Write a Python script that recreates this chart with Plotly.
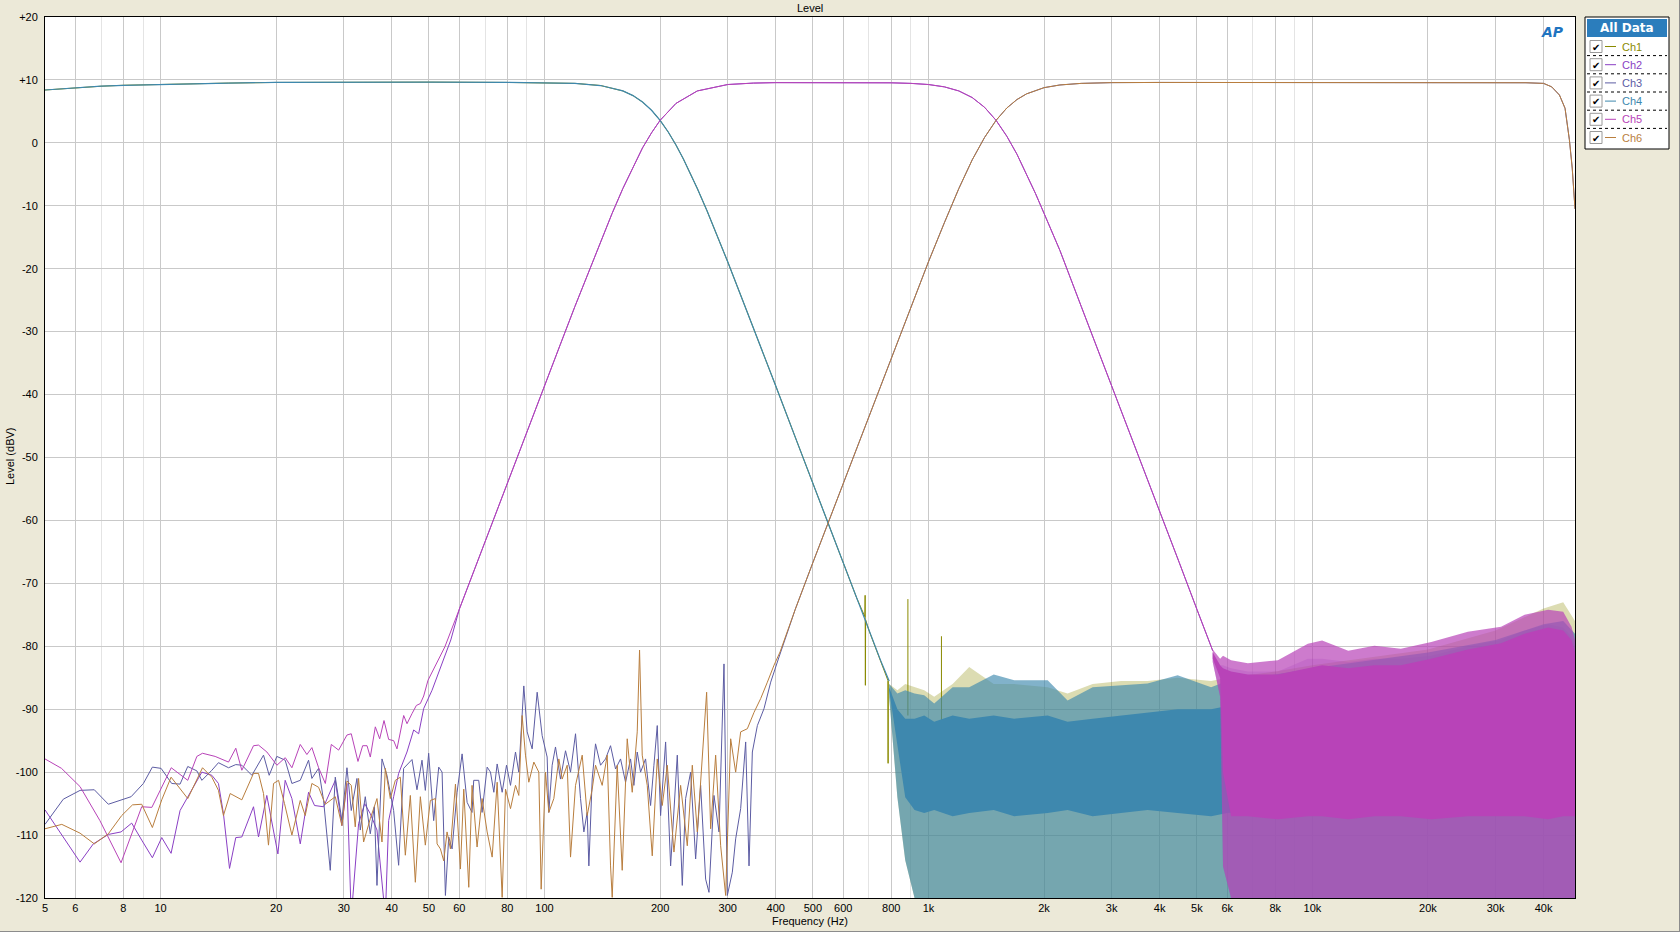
import math
import plotly.graph_objects as go

# ---------------- data ----------------
# Low-pass response (Ch1 / Ch4)
LP_F = [5, 6, 7, 8, 10, 12, 15, 20, 30, 50, 80, 100, 120, 140, 160, 170, 180, 190, 200, 210, 220, 230,
        250, 265, 280, 300, 330, 360, 400, 450, 500, 550, 600, 650, 700, 750, 790]
LP_DB = [8.4, 8.75, 9.0, 9.15, 9.3, 9.4, 9.5, 9.6, 9.65, 9.65, 9.6, 9.57, 9.45, 9.11, 8.25, 7.51, 6.49, 5.18,
         3.58, 1.72, -0.35, -2.57, -7.25, -10.8, -14.35, -18.9, -25.4, -31.3, -38.6, -46.8, -54.1, -60.7,
         -66.7, -72.3, -77.5, -82.2, -85.5]
# Ch1 extra spikes on the slope
CH1_SPK_F = [683, 684, 685, 686, 784, 785, 786]
CH1_SPK_DB = [-75.3, -71.9, -86.2, -75.8, -85.4, -98.6, -85.6]
# Ch1 isolated spikes in the noise floor
CH1_NS_F = [884, 1081]
CH1_NS_TOP = [-72.5, -78.4]
CH1_NS_BASE = [-91.0, -92.0]

# Low-pass noise floor envelopes (Ch1 / Ch4)
LPN_F = [790, 830, 870, 920, 975, 1035, 1156, 1277, 1479, 1673, 2044, 2303, 2677, 3172, 3721, 4457,
         5447, 6000, 8000, 10000, 15000, 20000, 30000, 40000, 45000, 48300]
TEAL_TOP = [-86, -87.5, -87, -87.5, -87.8, -89.1, -86.5, -86.5, -84.5, -85.4, -85.4, -88.6, -86.5,
            -86.2, -85.9, -84.6, -86.5, -85.5, -84.5, -83.5, -82, -81, -79, -76.5, -76, -78]
OLV_TOP = [-86, -87, -86, -86.5, -87, -88, -86, -83.3, -86, -86, -86.5, -87.5, -86, -85.5, -85.5,
           -85, -85.5, -85, -84, -83, -81.5, -80.5, -77.5, -74, -73, -76]
TEAL_BTOP = [-86.5, -90, -91.5, -91.5, -91, -92, -91, -91.5, -91, -91.5, -91, -92, -91.5, -91, -90.5,
             -90, -90, -89.5, -89, -88, -87, -86, -84, -82, -81, -83]
TEAL_BBOT = [-87, -96, -104, -106, -106.5, -106, -107, -106.5, -106, -107, -106.5, -106, -107, -106.5,
             -106, -106.5, -107, -106.5, -106, -106, -106, -106, -105, -105, -105, -106]
LPN_BOT = [-88, -104, -114, -120, -120, -120, -120, -120, -120, -120, -120, -120, -120, -120, -120,
           -120, -120, -120, -120, -120, -120, -120, -120, -120, -120, -120]

# Band-pass response (Ch2 / Ch5)
BP_F = [55, 60, 65, 70, 80, 90, 100, 110, 120, 130, 140, 150, 160, 170, 180, 190, 200, 220, 250, 300,
        350, 400, 500, 650, 800, 900, 1000, 1100, 1200, 1300, 1400, 1500, 1600, 1700, 1800, 1900, 2000,
        2200, 2500, 2800, 3000, 3500, 4000, 4500, 5000, 5500]
BP_DB = [-80.1, -74.1, -68.5, -63.4, -54.1, -45.9, -38.6, -32.0, -26.0, -20.6, -15.7, -11.2, -7.25,
         -3.8, -0.8, 1.6, 3.58, 6.27, 8.25, 9.27, 9.5, 9.57, 9.6, 9.6, 9.54, 9.45, 9.27, 8.9, 8.25, 7.2,
         5.65, 3.58, 1.05, -1.8, -4.9, -8.05, -11.2, -17.1, -26.0, -33.8, -38.6, -49.3, -58.6, -66.7,
         -74.1, -80.7]

# Ch5 low-frequency noise
CH5_LO_F = [5.00, 5.52, 6.17, 6.95, 7.89, 8.93, 9.49, 10.66, 11.77, 12.43, 12.86, 13.87, 15.03, 15.70,
            16.28, 17.46, 17.99, 18.92, 20.09, 21.12, 21.98, 23.11, 24.05, 24.78, 25.80, 26.86, 27.84,
            29.09, 30.58, 31.38, 32.67, 33.60, 34.49, 35.18, 36.25, 37.21, 38.19, 39.27, 40.47, 41.28,
            42.97, 43.84, 45.17, 46.37, 47.49, 48.45, 49.72, 52.0]
CH5_LO_DB = [-97.9, -99.4, -102.3, -107.7, -114.4, -105.5, -105.6, -99.3, -101.3, -97.5, -97.0, -97.5,
             -98.4, -96.2, -99.7, -95.8, -95.7, -96.8, -98.9, -97.7, -99.3, -95.6, -97.2, -96.1, -99.3,
             -101.8, -95.6, -96.5, -94.1, -93.9, -98.3, -95.8, -95.8, -97.6, -92.8, -94.7, -91.8, -94.8,
             -95.0, -96.3, -91.0, -92.3, -90.7, -89.4, -89.1, -87.9, -85.4, -83.0]

# Ch2 low-frequency noise
CH2_LO_F = [5.00, 6.17, 6.68, 7.31, 7.89, 8.41, 8.93, 9.52, 10.07, 10.65, 11.24, 12.06, 12.81, 13.60,
            14.15, 14.58, 15.12, 15.70, 16.28, 17.46, 17.99, 18.91, 20.21, 21.11, 21.98, 23.11, 24.29,
            25.18, 26.58, 28.51, 29.67, 30.58, 31.38, 32.79, 34.00, 35.17, 36.61, 38.49, 39.27, 40.46,
            41.69, 43.83, 45.62, 47.01, 48.44, 50.93, 53.5, 57.0]
CH2_LO_DB = [-106.0, -114.3, -111.4, -109.9, -109.5, -108.1, -110.8, -113.6, -110.4, -112.9, -106.1,
             -102.9, -100.0, -100.5, -101.8, -106.6, -115.3, -110.4, -110.3, -105.5, -110.3, -103.7,
             -113.0, -101.3, -104.2, -111.4, -103.2, -105.3, -105.5, -101.3, -108.5, -101.8, -123.0,
             -108.2, -105.0, -106.6, -109.2, -123.0, -107.7, -103.9, -100.2, -96.8, -93.3, -93.9, -89.9,
             -87.0, -83.5, -79.0]

# Band-pass high-frequency noise envelopes (Ch2 / Ch5)
BPN_F = [5500, 5750, 5850, 6140, 6790, 8130, 9730, 10600, 12400, 14500, 17000, 20400, 25400, 31000,
         35700, 41100, 45000, 47300, 48300]
MAG_TOP = [-80.5, -82, -81.5, -82.2, -82.7, -82.2, -79.6, -79.1, -80.7, -79.9, -80.4, -79.3, -77.7,
           -76.9, -75.0, -74.2, -74.5, -76.9, -79]
MAG_BTOP = [-81, -83, -83.5, -84, -84.5, -84.5, -83.5, -83, -83.5, -83, -83, -82, -80.5, -79.5, -78,
            -77, -77.5, -79, -81]
MAG_BBOT = [-82, -85, -100, -107, -107, -107.5, -107, -107, -107.5, -107, -107, -107.5, -107, -107,
            -107, -107.5, -107, -107, -107]
MAG_BOT = [-82.5, -88, -115, -120, -120, -120, -120, -120, -120, -120, -120, -120, -120, -120, -120,
           -120, -120, -120, -120]
PUR_TOP = [-81, -83, -83, -83.5, -84, -84, -82, -82, -82.5, -82, -82, -81.5, -80, -79, -77.5, -76.5,
           -77, -78.5, -80]

# High-pass response (Ch3 / Ch6)
HP_F = [450, 500, 550, 600, 700, 800, 900, 1000, 1100, 1200, 1300, 1400, 1500, 1600, 1700, 1800, 2000,
        2200, 2500, 3000, 4000, 6000, 10000, 20000, 30000, 36000, 40000, 42000, 44000, 45500, 46700,
        47500, 48300]
HP_DB = [-74.1, -66.7, -60.1, -54.1, -43.4, -34.1, -26.0, -18.9, -12.7, -7.25, -2.7, 0.86, 3.58, 5.54,
         6.88, 7.78, 8.77, 9.2, 9.45, 9.57, 9.6, 9.6, 9.6, 9.6, 9.58, 9.55, 9.45, 8.9, 7.6, 5.5, 0.5,
         -4.0, -10.5]

# Ch3 low-frequency noise
CH3_LO_F = [5.00, 5.58, 6.17, 6.72, 7.31, 8.38, 9.02, 9.52, 10.03, 10.69, 11.24, 11.77, 12.43, 12.81,
            13.60, 14.15, 15.03, 15.70, 16.28, 17.29, 18.54, 19.18, 20.08, 21.11, 21.98, 23.11, 24.29,
            24.78, 25.79, 26.58, 27.67, 28.51, 29.67, 30.58, 31.38, 32.47, 33.12, 34.13, 35.17, 36.03,
            36.61, 37.73, 38.87, 40.46, 41.69, 42.96, 45.17, 46.54, 47.96, 48.93, 49.92, 51.44,
            53.02, 54.10, 55.19, 56.30, 57.44, 59.19, 61.00, 62.86, 64.75, 65.40, 67.40, 68.77, 70.89,
            72.32, 73.79, 75.28, 77.57, 79.61, 81.55, 84.03, 85.71, 88.32, 90.11, 92.86, 95.68, 98.60,
            101.59, 102.61, 104.69, 106.80, 110.05, 113.42, 116.88, 120.44, 124.11, 126.62, 129.17,
            130.46, 133.10, 135.79, 139.93, 144.19, 148.58, 153.11, 157.77, 162.57, 167.53, 170.91,
            174.37, 177.89, 183.31, 188.90, 192.72, 196.61, 200.59, 206.72, 213.02, 217.32, 221.72,
            228.47, 233.08, 240.19, 247.51, 255.05, 262.82, 268.13, 276.30, 284.72, 293.39, 299.33,
            308.44, 314.67, 324.26, 334.15, 340.90, 347.79, 358.40, 373.02, 388.25, 408.16]
CH3_LO_DB = [-108.3, -104.3, -102.9, -102.8, -105.1, -103.9, -101.8, -99.2, -99.4, -101.8, -101.9,
             -99.1, -99.8, -101.3, -99.7, -98.5, -99.3, -98.8, -98.9, -100.5, -97.3, -100.5, -97.5,
             -98.1, -101.8, -101.3, -98.1, -101.0, -99.4, -104.5, -115.6, -100.8, -107.7, -99.3,
             -106.1, -101.0, -109.2, -103.9, -109.8, -105.5, -118.0, -97.9, -100.5, -106.1, -114.8,
             -99.4, -98.0, -102.8, -98.1, -102.9, -97.0, -107.7,
             -99.2, -100.0, -119.6, -110.3, -112.2, -103.2, -97.1, -104.8, -106.4, -101.3, -101.3,
             -106.4, -99.2, -100.0, -103.2, -98.7, -103.2, -98.9, -102.1, -96.8, -100.0, -86.3, -93.6,
             -96.3, -87.3, -94.2, -97.6, -106.4, -98.9, -96.0, -101.1, -96.6, -100.0, -93.9, -104.2,
             -109.5, -106.4, -114.9, -101.1, -95.5, -98.9, -97.9, -95.8, -99.5, -97.9, -101.6, -97.9,
             -102.1, -96.8, -100.0, -97.9, -105.3, -98.9, -92.6, -106.9, -95.2, -114.9, -105.3, -97.3,
             -118.0, -104.2, -100.0, -113.8, -102.1, -117.0, -119.1, -103.7, -109.5, -82.8, -119.6,
             -115.9, -110.6, -105.8, -95.2, -114.9, -96.8, -92.6, -89.9, -85.7, -81.7]

# Ch6 low-frequency noise
CH6_LO_F = [5.00, 5.53, 6.17, 6.72, 7.31, 7.92, 8.45, 8.93, 9.52, 10.07, 10.65, 11.77, 12.86, 13.60,
            14.15, 14.58, 15.18, 16.28, 17.46, 17.99, 18.54, 19.10, 19.69, 20.29, 21.03, 21.98, 23.11,
            23.81, 24.78, 25.79, 26.85, 28.51, 29.67, 30.58, 31.38, 32.14, 32.79, 33.79, 35.17, 36.61,
            37.73, 38.49, 39.66, 40.87, 42.11, 43.40, 44.72, 46.08, 47.49, 48.93, 50.42, 51.96,
            52.50, 53.56, 54.64, 55.74, 56.87, 58.62, 60.39, 61.61, 63.49, 64.75, 66.73, 68.77, 70.89,
            73.05, 75.28, 77.57, 79.14, 81.55, 84.03, 85.71, 87.44, 89.21, 91.01, 93.79, 96.64, 98.01,
            100.59, 102.61, 105.74, 108.96, 111.16, 114.56, 116.88, 120.44, 125.36, 129.17, 133.10,
            135.79, 141.33, 145.64, 148.58, 150.07, 154.65, 159.35, 164.21, 169.21, 174.37, 176.82,
            179.68, 185.16, 190.80, 196.61, 202.63, 208.80, 217.32, 226.20, 235.43, 242.61, 250.00,
            257.61, 264.40, 270.83, 279.08, 287.58, 296.35, 305.37, 314.67, 324.26, 337.51, 351.29,
            365.63, 380.56, 396.09, 410.62]
CH6_LO_DB = [-109.0, -108.3, -109.7, -111.4, -109.8, -106.9, -105.2, -105.1, -108.8, -104.4, -100.8,
             -104.2, -99.3, -100.8, -102.9, -106.9, -103.4, -104.4, -100.2, -100.2, -103.4, -111.6,
             -101.8, -101.3, -105.0, -110.0, -104.5, -106.9, -101.8, -102.4, -105.1, -103.9, -108.5,
             -101.4, -102.1, -108.7, -101.0, -111.1, -107.4, -104.2, -111.1, -99.4, -104.2, -101.3,
             -100.8, -113.2, -103.7, -117.5, -103.9, -111.6, -104.5, -104.2,
             -111.4, -112.2, -114.1, -109.5, -112.2, -101.9, -115.4, -102.7, -118.3, -102.1, -111.9,
             -104.2, -109.5, -113.5, -101.6, -119.9, -102.7, -105.8, -102.1, -103.7, -91.0, -97.3,
             -101.6, -98.4, -100.0, -118.6, -100.0, -106.4, -104.2, -97.9, -101.1, -98.9, -113.5,
             -102.1, -97.3, -106.9, -102.7, -98.9, -102.1, -97.3, -114.9, -119.9, -98.9, -115.6, -94.7,
             -103.2, -93.6, -80.6, -97.3, -102.1, -113.3, -97.9, -105.3, -98.9, -112.7, -102.1, -111.7,
             -98.9, -109.5, -96.8, -87.3, -109.0, -97.3, -111.7, -119.6, -94.7, -100.0, -93.6, -93.1,
             -90.5, -88.3, -85.7, -83.0, -80.9]

# Axis ticks
X_TICKS = [5, 6, 8, 10, 20, 30, 40, 50, 60, 80, 100, 200, 300, 400, 500, 600, 800,
           1000, 2000, 3000, 4000, 5000, 6000, 8000, 10000, 20000, 30000, 40000]
X_TICK_TEXT = ["5", "6", "8", "10", "20", "30", "40", "50", "60", "80", "100", "200", "300", "400",
               "500", "600", "800", "1k", "2k", "3k", "4k", "5k", "6k", "8k", "10k", "20k", "30k", "40k"]
X_MINOR = [7, 9, 70, 90, 700, 900, 7000, 9000]
Y_TICKS = [20, 10, 0, -10, -20, -30, -40, -50, -60, -70, -80, -90, -100, -110, -120]
Y_TICK_TEXT = ["+20", "+10", "0", "-10", "-20", "-30", "-40", "-50", "-60", "-70", "-80", "-90",
               "-100", "-110", "-120"]

CHANNELS = ["Ch1", "Ch2", "Ch3", "Ch4", "Ch5", "Ch6"]
COLORS = ["#8A8A00", "#8A3FC4", "#5C5CA3", "#3E88AE", "#B843B8", "#B97E3E"]

# ---------------- figure ----------------
W, H = 1680, 932
L, R, T, B = 45, 1575, 17, 898


def px(X):
    return (X - L) / (R - L)


def py(Y):
    return (B - Y) / (B - T)


def rgba(hexc, a):
    h = hexc.lstrip('#')
    return "rgba(%d,%d,%d,%.2f)" % (int(h[0:2], 16), int(h[2:4], 16), int(h[4:6], 16), a)


fig = go.Figure()


def add_line(x, y, color, width=1.0):
    fig.add_trace(go.Scatter(x=x, y=y, mode='lines', line=dict(color=color, width=width),
                             hoverinfo='skip', showlegend=False))


def add_band(x, lo, hi, color):
    fig.add_trace(go.Scatter(x=x, y=lo, mode='lines', line=dict(width=0, color=color),
                             hoverinfo='skip', showlegend=False))
    fig.add_trace(go.Scatter(x=x, y=hi, mode='lines', line=dict(width=0, color=color),
                             fill='tonexty', fillcolor=color, hoverinfo='skip', showlegend=False))


def merged(fa, da, fb, db):
    pts = sorted(zip(list(fa) + list(fb), list(da) + list(db)))
    return [p[0] for p in pts], [p[1] for p in pts]


c1, c2, c3, c4, c5, c6 = COLORS

# Ch1
add_band(LPN_F, LPN_BOT, OLV_TOP, rgba(c1, 0.30))
f1, d1 = merged(LP_F, LP_DB, CH1_SPK_F, CH1_SPK_DB)
add_line(f1, d1, c1)
sx, sy = [], []
for f, t, b in zip(CH1_NS_F, CH1_NS_TOP, CH1_NS_BASE):
    sx += [f, f, None]
    sy += [b, t, None]
add_line(sx, sy, c1)

# Ch2
add_band(BPN_F, MAG_BOT, PUR_TOP, rgba(c2, 0.25))
bp60 = [i for i, f in enumerate(BP_F) if f >= 60]
add_line(CH2_LO_F + [BP_F[i] for i in bp60], CH2_LO_DB + [BP_DB[i] for i in bp60], c2)

# Ch3
add_line(CH3_LO_F + HP_F, CH3_LO_DB + HP_DB, c3)

# Ch4
add_band(LPN_F, LPN_BOT, TEAL_TOP, rgba(c4, 0.65))
add_band(LPN_F, TEAL_BBOT, TEAL_BTOP, c4)
add_line(LP_F, LP_DB, c4, 1.2)

# Ch5
add_band(BPN_F, MAG_BOT, MAG_TOP, rgba(c5, 0.70))
add_band(BPN_F, MAG_BBOT, MAG_BTOP, c5)
add_line(CH5_LO_F + BP_F, CH5_LO_DB + BP_DB, c5)

# Ch6
add_line(CH6_LO_F + HP_F, CH6_LO_DB + HP_DB, c6)

FONT = "Liberation Sans, Arial, sans-serif"

fig.update_layout(
    width=W, height=H,
    margin=dict(l=L, r=W - R, t=T, b=H - B, pad=0),
    paper_bgcolor="#ECE9D8", plot_bgcolor="white",
    showlegend=False,
    font=dict(family=FONT, size=11, color="black"),
    xaxis=dict(type="log", range=[math.log10(5), math.log10(48300)],
               tickmode="array", tickvals=X_TICKS, ticktext=X_TICK_TEXT,
               showgrid=True, gridcolor="#C9C9C9", gridwidth=1,
               minor=dict(tickmode="array", tickvals=X_MINOR, showgrid=True, gridcolor="#E4E4E4",
                          ticks=""),
               showline=True, mirror=True, linecolor="black", linewidth=1,
               ticks="", zeroline=False, tickfont=dict(family=FONT, size=11, color="black")),
    yaxis=dict(range=[-120, 20], tickmode="array", tickvals=Y_TICKS, ticktext=Y_TICK_TEXT,
               showgrid=True, gridcolor="#C9C9C9", gridwidth=1,
               showline=True, mirror=True, linecolor="black", linewidth=1,
               ticks="", zeroline=False, ticklabelstandoff=4,
               tickfont=dict(family=FONT, size=11, color="black")),
)

ann = []
shapes = []


def text(x, y, s, size=11, color="black", family=FONT, xanchor="center", angle=0):
    ann.append(dict(x=px(x), y=py(y), xref="paper", yref="paper", text=s, showarrow=False,
                    xanchor=xanchor, yanchor="middle", textangle=angle,
                    font=dict(family=family, size=size, color=color)))


text(810, 8, "Level", size=11)
text(810, 921, "Frequency (Hz)", size=11)
text(10, 457, "Level (dBV)", size=11, angle=-90)
text(1552, 32, "<b><i>AP</i></b>", size=14, color="#1F74C0", family="DejaVu Sans")

# legend panel
shapes.append(dict(type="rect", xref="paper", yref="paper", x0=px(1585), x1=px(1669), y0=py(149),
                   y1=py(17), line=dict(color="black", width=1), fillcolor="white", layer="above"))
shapes.append(dict(type="rect", xref="paper", yref="paper", x0=px(1587), x1=px(1667), y0=py(37),
                   y1=py(19), line=dict(width=0), fillcolor="#2B7DBC", layer="above"))
text(1627, 28, "<b>All Data</b>", size=12, color="white", family="DejaVu Sans")
for i, (name, col) in enumerate(zip(CHANNELS, COLORS)):
    cy = 46.5 + 18.2 * i
    shapes.append(dict(type="rect", xref="paper", yref="paper", x0=px(1590), x1=px(1602),
                       y0=py(cy + 6), y1=py(cy - 6), line=dict(color="#9A9A9A", width=1),
                       fillcolor="white", layer="above"))
    text(1596, cy + 0.5, "<b>✔</b>", size=10, color="black", family="DejaVu Sans")
    shapes.append(dict(type="line", xref="paper", yref="paper", x0=px(1605), x1=px(1616),
                       y0=py(cy), y1=py(cy), line=dict(color=col, width=1), layer="above"))
    text(1620, cy, name, size=11, color=col, xanchor="left")
    if i < 5:
        sep = cy + 9.1
        shapes.append(dict(type="line", xref="paper", yref="paper", x0=px(1587), x1=px(1667),
                           y0=py(sep), y1=py(sep), line=dict(color="black", width=1, dash="dot"),
                           layer="above"))

# window frame edges
shapes.append(dict(type="line", xref="paper", yref="paper", x0=px(1679.5), x1=px(1679.5),
                   y0=py(932), y1=py(0), line=dict(color="#8C8C8C", width=1)))
shapes.append(dict(type="line", xref="paper", yref="paper", x0=px(0), x1=px(1680),
                   y0=py(931.5), y1=py(931.5), line=dict(color="#8C8C8C", width=1)))

fig.update_layout(annotations=ann, shapes=shapes)

fig.write_html("out.html", config={"displayModeBar": False},
               post_script="document.body.style.margin='0';document.body.style.overflow='hidden';")
